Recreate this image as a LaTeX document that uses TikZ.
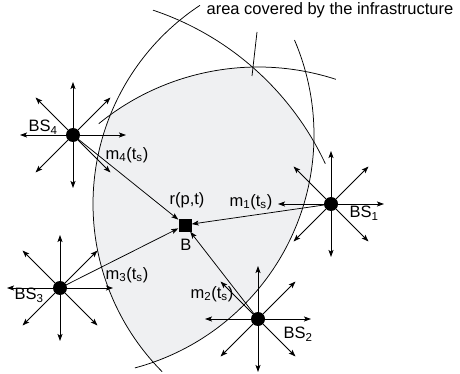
\documentclass[tikz,border=0pt]{standalone}
\usepackage{fontspec}
\setmainfont{Liberation Sans}
\usetikzlibrary{arrows.meta}
\definecolor{areagray}{RGB}{239,240,242}

\begin{document}
\begin{tikzpicture}[x=1pt, y=-1pt, every node/.style={font=\fontsize{16.5}{19}\selectfont}] % pixel units, y downwards
        % Styles
        \tikzstyle{arrow} = [line width=0.75pt, ->, >={Stealth[length=7pt,width=5pt,inset=1.5pt]}]
        \tikzstyle{station} = [circle, fill=black, minimum size=14pt, inner sep=0pt]
        \tikzstyle{target} = [rectangle, fill=black, minimum size=13pt, inner sep=0pt]
        \tikzstyle{rangeline} = [line width=0.75pt]
        \useasboundingbox (0,0) rectangle (460,374);

        % Covered area = intersection of the four ranges
        \begin{scope}
            \clip (331,204) circle (238);
            \clip (258,319) circle (252);
            \clip (60,288) circle (293);
            \clip (73,135) circle (241);
            \fill[areagray] (0,0) rectangle (460,374);
        \end{scope}

        % Base stations and the node B
        \node (bs1) [station] at (331,204) {};
        \node (bs2) [station] at (258,319) {};
        \node (bs3) [station] at (60,288) {};
        \node (bs4) [station] at (73,135) {};
        \node (b) [target] at (185,225) {};

        % Range borders
        \draw[rangeline] (bs1) ++(236.6:238) arc[start angle=236.6, end angle=135.2, radius=238];
        \draw[rangeline] (bs2) ++(230.8:252) arc[start angle=230.8, end angle=288, radius=252];
        \draw[rangeline] (bs3) ++(288.5:293) arc[start angle=288.5, end angle=334.9, radius=293];
        \draw[rangeline] (bs4) ++(-23.2:241) arc[start angle=-23.2, end angle=75.1, radius=241];

        % Radiating arrows
        \foreach \s in {bs1,bs2,bs3,bs4}
            \foreach \a in {0,45,...,315} {
                \path (\s) ++(\a:53) coordinate (\s-\a);
                \draw [arrow] (\s) -- (\s-\a);
            }

        % Measurements
        \draw [arrow] (bs1.center) -- (b);
        \draw [arrow] (bs2.center) -- (b);
        \draw [arrow] (bs3.center) -- (b);
        \draw [arrow] (bs4.center) -- (b);

        % Labels
        \node (bs1lbl) at (364,213) {BS\textsubscript{1}};
        \node (bs2lbl) at (298,334) {BS\textsubscript{2}};
        \node (bs3lbl) at (29,295) {BS\textsubscript{3}};
        \node (bs4lbl) at (43,127) {BS\textsubscript{4}};
        \node (m1lbl) at (251,202) {m\textsubscript{1}(t\textsubscript{s})};
        \node (m2lbl) at (212,294) {m\textsubscript{2}(t\textsubscript{s})};
        \node (m3lbl) at (127,275) {m\textsubscript{3}(t\textsubscript{s})};
        \node (m4lbl) at (127,155) {m\textsubscript{4}(t\textsubscript{s})};
        \node (rlbl) at (187,200) {r(p,t)};
        \node (blbl) at (186,245) {B};

        % Covered area label
        \node (area) at (330,10) {area covered by the infrastructure};
        \coordinate (lead1) at (257,32);
        \coordinate (lead2) at (252,76);
        \draw[rangeline] (lead1) -- (lead2);
\end{tikzpicture}
\end{document}
